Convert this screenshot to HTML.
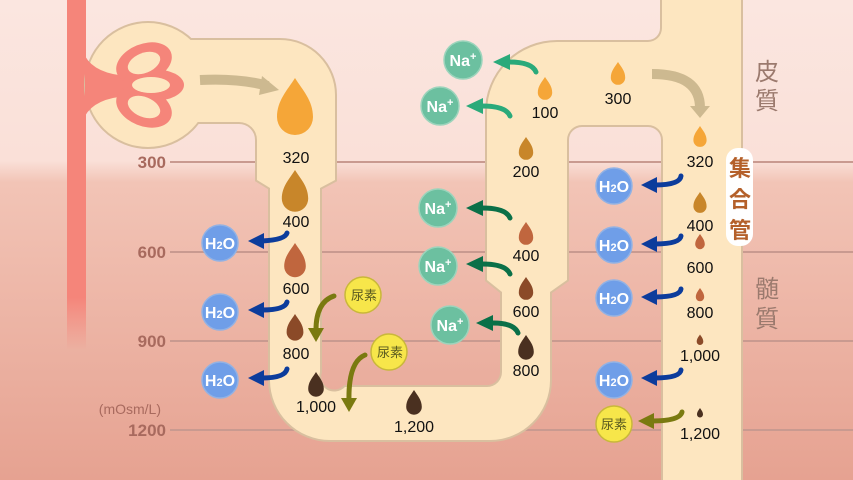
<!DOCTYPE html>
<html><head><meta charset="utf-8"><style>
html,body{margin:0;padding:0;width:853px;height:480px;overflow:hidden}
svg{display:block}
text{font-family:"Liberation Sans","Noto Sans CJK JP",sans-serif}
</style></head><body>
<svg width="853" height="480" viewBox="0 0 853 480" xmlns="http://www.w3.org/2000/svg">
<defs>
<linearGradient id="bg" x1="0" y1="0" x2="0" y2="1">
<stop offset="0" stop-color="#fbe6e0"/>
<stop offset="0.335" stop-color="#fae0d8"/>
<stop offset="0.38" stop-color="#f2c4b6"/>
<stop offset="1" stop-color="#e6a291"/>
</linearGradient>
<linearGradient id="vein" x1="0" y1="0" x2="0" y2="1">
<stop offset="0.85" stop-color="#f5857a"/>
<stop offset="1" stop-color="#f5857a" stop-opacity="0"/>
</linearGradient>
<path id="dr" d="M0,-1 C0.25,-0.6 0.6,-0.25 0.6,0.3 A0.6,0.6 0 0 1 -0.6,0.3 C-0.6,-0.25 -0.25,-0.6 0,-1Z"/>
<g id="tub">
<circle cx="148" cy="85" r="62"/>
<path d="M150,40 H280 A55,55 0 0 1 335,95 V180 L320,188 H270 L257,180 V140 A18,18 0 0 0 239,122 H150 Z"/>
<path d="M270,180 V380 A60,60 0 0 0 330,440 H490 A60,60 0 0 0 550,380 V292 L567,280 V140 A15,15 0 0 1 582,125 H648 A15,15 0 0 1 663,140 V480 H741 V0 H662 V28 A14,14 0 0 1 648,42 H557 A70,70 0 0 0 487,112 V280 L502,292 V372 A15,15 0 0 1 487,387 H345 A15,15 0 0 1 320,372 V180 Z"/>
</g>
</defs>
<rect width="853" height="480" fill="url(#bg)"/>
<g stroke="#c99a90" stroke-width="2">
<line x1="170" y1="162" x2="853" y2="162"/>
<line x1="170" y1="252" x2="853" y2="252"/>
<line x1="170" y1="341" x2="853" y2="341"/>
<line x1="170" y1="430" x2="853" y2="430"/>
</g>
<g font-size="17" font-weight="bold" fill="#a86a5e" text-anchor="end">
<text x="166" y="168">300</text>
<text x="166" y="258">600</text>
<text x="166" y="347">900</text>
<text x="166" y="436">1200</text>
<text x="161" y="414" font-size="14" font-weight="normal">(mOsm/L)</text>
</g>
<rect x="67" y="0" width="19" height="350" fill="url(#vein)"/>
<use href="#tub" fill="none" stroke="#d9bf9f" stroke-width="4"/>
<use href="#tub" fill="#fde6c0"/>
<rect x="272" y="170" width="46" height="30" fill="#fde6c0"/>
<!-- glomerulus -->
<g fill="#f5857a">
<path d="M85,56 Q95,74 128,76 L128,96 Q95,98 85,116 Z"/>
<ellipse cx="144" cy="63" rx="29" ry="19" transform="rotate(-22 144 63)"/>
<ellipse cx="153" cy="85" rx="31" ry="16"/>
<ellipse cx="144" cy="107" rx="29" ry="19" transform="rotate(22 144 107)"/>
</g>
<g fill="#fde6c0">
<ellipse cx="144" cy="63" rx="17" ry="10" transform="rotate(-22 144 63)"/>
<ellipse cx="151" cy="85" rx="19" ry="8"/>
<ellipse cx="144" cy="107" rx="17" ry="10" transform="rotate(22 144 107)"/>
</g>
<!-- tan arrows -->
<g fill="none" stroke="#cdb990" stroke-width="10">
<path d="M200,80 Q240,78 268,86"/>
<path d="M652,74 Q700,74 700,108"/>
</g>
<polygon points="262,76 279,90 259,95" fill="#cdb990"/>
<polygon points="690,106 710,106 700,118" fill="#cdb990"/>
<!-- collecting duct label -->
<rect x="726" y="148" width="27" height="98" rx="12" fill="#fff"/>
<g font-size="22" font-weight="bold" fill="#b4602a" text-anchor="middle">
<text x="740" y="176">集</text><text x="740" y="207">合</text><text x="740" y="238">管</text>
</g>
<g font-size="24" fill="#9b7a6e" text-anchor="middle">
<text x="767" y="80">皮</text><text x="767" y="109">質</text>
<text x="767" y="297">髄</text><text x="767" y="327">質</text>
</g>
<!-- drops -->
<g>
<use href="#dr" fill="#f5a638" transform="translate(295,108) scale(30)"/>
<use href="#dr" fill="#c8862a" transform="translate(295,192) scale(22)"/>
<use href="#dr" fill="#c0663e" transform="translate(295,261) scale(18)"/>
<use href="#dr" fill="#8b4a28" transform="translate(295,328) scale(14)"/>
<use href="#dr" fill="#4a3020" transform="translate(316,385) scale(13)"/>
<use href="#dr" fill="#4a3020" transform="translate(414,403) scale(13)"/>
<use href="#dr" fill="#4a3020" transform="translate(526,348) scale(13)"/>
<use href="#dr" fill="#8b4a28" transform="translate(526,289) scale(12)"/>
<use href="#dr" fill="#c0663e" transform="translate(526,234) scale(12)"/>
<use href="#dr" fill="#c8862a" transform="translate(526,149) scale(12)"/>
<use href="#dr" fill="#f5a638" transform="translate(545,89) scale(12)"/>
<use href="#dr" fill="#f5a638" transform="translate(618,74) scale(12)"/>
<use href="#dr" fill="#f5a638" transform="translate(700,137) scale(11)"/>
<use href="#dr" fill="#c8862a" transform="translate(700,203) scale(11)"/>
<use href="#dr" fill="#c0663e" transform="translate(700,242) scale(8)"/>
<use href="#dr" fill="#c0663e" transform="translate(700,295) scale(7)"/>
<use href="#dr" fill="#8b4a28" transform="translate(700,340) scale(5.5)"/>
<use href="#dr" fill="#4a3020" transform="translate(700,413) scale(5)"/>
</g>
<g font-size="16" fill="#111" text-anchor="middle">
<text x="296" y="163">320</text><text x="296" y="227">400</text><text x="296" y="294">600</text>
<text x="296" y="359">800</text><text x="316" y="412">1,000</text><text x="414" y="432">1,200</text>
<text x="526" y="376">800</text><text x="526" y="317">600</text><text x="526" y="261">400</text>
<text x="526" y="177">200</text><text x="545" y="118">100</text><text x="618" y="104">300</text>
<text x="700" y="167">320</text><text x="700" y="231">400</text><text x="700" y="273">600</text>
<text x="700" y="318">800</text><text x="700" y="361">1,000</text><text x="700" y="439">1,200</text>
</g>
<!-- arrows -->
<g fill="none" stroke-width="5" stroke-linecap="round">
<g stroke="#0c3c9c">
<path d="M287,233 Q285,240 262,241"/>
<path d="M287,302 Q285,310 262,310"/>
<path d="M287,369 Q285,378 262,378"/>
<path d="M681,176 Q680,185 655,185"/>
<path d="M681,236 Q680,244 655,244"/>
<path d="M681,289 Q680,297 655,297"/>
<path d="M681,370 Q680,378 655,378"/>
</g>
<g stroke="#2aaa7a">
<path d="M536,72 Q532,62 509,62"/>
<path d="M510,116 Q506,106 482,106"/>
</g>
<g stroke="#0a7048">
<path d="M510,218 Q506,208 482,208"/>
<path d="M510,274 Q506,264 482,264"/>
<path d="M518,333 Q514,323 493,323"/>
</g>
<g stroke="#7a7a10">
<path d="M334,296 Q316,302 316,330"/>
<path d="M365,355 Q348,362 349,402"/>
<path d="M682,412 Q680,421 652,421"/>
</g>
</g>
<g fill="#0c3c9c">
<polygon points="248,241 264,233 264,249"/><polygon points="248,310 264,302 264,318"/><polygon points="248,378 264,370 264,386"/>
<polygon points="641,185 657,177 657,193"/><polygon points="641,244 657,236 657,252"/><polygon points="641,297 657,289 657,305"/><polygon points="641,378 657,370 657,386"/>
</g>
<g fill="#2aaa7a"><polygon points="493,62 510,54 510,70"/><polygon points="466,106 483,98 483,114"/></g>
<g fill="#0a7048"><polygon points="466,208 483,200 483,216"/><polygon points="466,264 483,256 483,272"/><polygon points="476,323 493,315 493,331"/></g>
<g fill="#7a7a10"><polygon points="308,328 324,328 316,342"/><polygon points="341,398 357,398 349,412"/><polygon points="638,421 654,413 654,429"/></g>
<!-- circles -->
<g stroke-width="1.5">
<g fill="#6f9ee8" stroke="#92b2e4">
<circle cx="220" cy="243" r="18"/><circle cx="220" cy="312" r="18"/><circle cx="220" cy="380" r="18"/>
<circle cx="614" cy="186" r="18"/><circle cx="614" cy="245" r="18"/><circle cx="614" cy="298" r="18"/><circle cx="614" cy="380" r="18"/>
</g>
<g fill="#6cc0a0" stroke="#9cd4bc">
<circle cx="463" cy="60" r="19"/><circle cx="440" cy="106" r="19"/><circle cx="438" cy="208" r="19"/><circle cx="438" cy="266" r="19"/><circle cx="450" cy="325" r="19"/>
</g>
<g fill="#f7e64a" stroke="#c9b83a">
<circle cx="363" cy="295" r="18"/><circle cx="389" cy="352" r="18"/><circle cx="614" cy="424" r="18"/>
</g>
</g>
<g font-size="16" font-weight="bold" fill="#fff" text-anchor="middle">
<text x="220" y="249">H<tspan font-size="11">2</tspan>O</text>
<text x="220" y="318">H<tspan font-size="11">2</tspan>O</text>
<text x="220" y="386">H<tspan font-size="11">2</tspan>O</text>
<text x="614" y="192">H<tspan font-size="11">2</tspan>O</text>
<text x="614" y="251">H<tspan font-size="11">2</tspan>O</text>
<text x="614" y="304">H<tspan font-size="11">2</tspan>O</text>
<text x="614" y="386">H<tspan font-size="11">2</tspan>O</text>
<text x="463" y="66">Na<tspan font-size="11" dy="-6">+</tspan></text>
<text x="440" y="112">Na<tspan font-size="11" dy="-6">+</tspan></text>
<text x="438" y="214">Na<tspan font-size="11" dy="-6">+</tspan></text>
<text x="438" y="272">Na<tspan font-size="11" dy="-6">+</tspan></text>
<text x="450" y="331">Na<tspan font-size="11" dy="-6">+</tspan></text>
</g>
<g font-size="13" fill="#5a5a20" text-anchor="middle">
<text x="364" y="300">尿素</text><text x="390" y="357">尿素</text><text x="614" y="429">尿素</text>
</g>
</svg>
</body></html>
